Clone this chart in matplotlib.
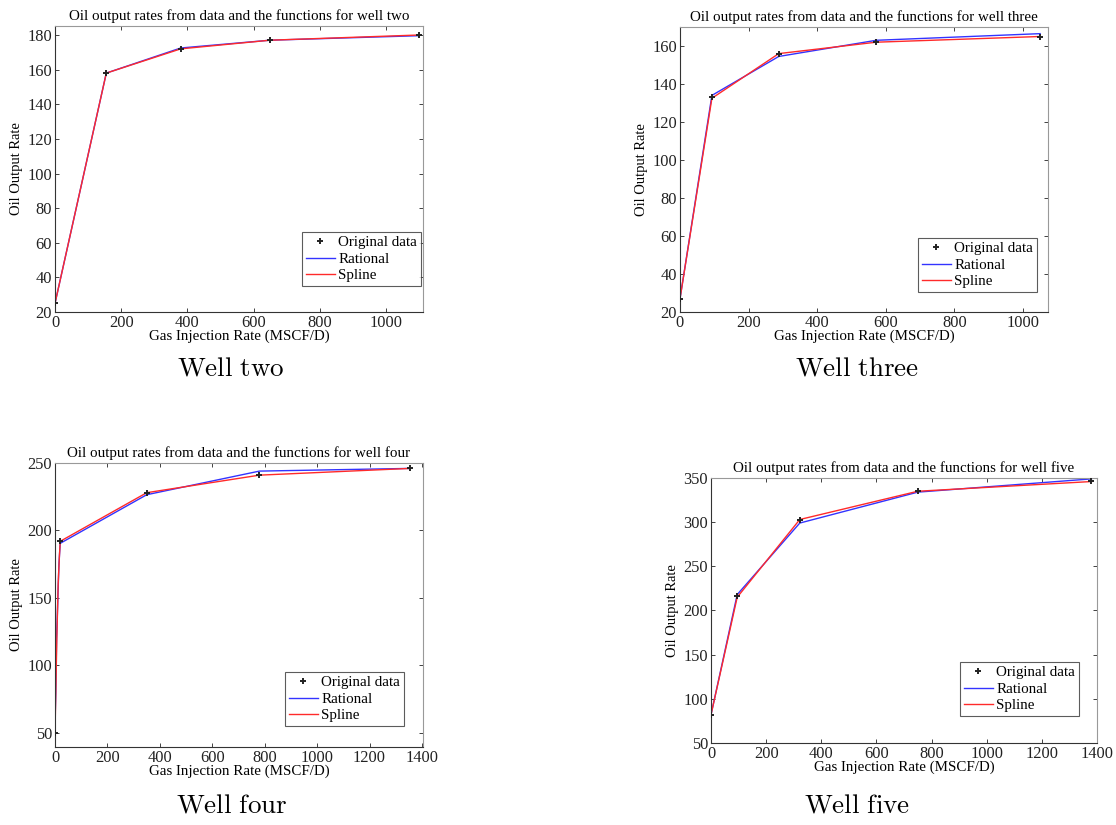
import matplotlib
matplotlib.use("Agg")
import matplotlib.pyplot as plt

plt.rcParams['font.family'] = ['Liberation Serif', 'DejaVu Serif']
plt.rcParams['mathtext.fontset'] = 'cm'

# ---- data ----
# Well two
w2_x = [0, 155, 380, 650, 1100]
w2_data = [25, 158, 172, 177, 180]
w2_rat_x = [0, 155, 380, 650, 1100]
w2_rat = [25, 158, 172.5, 177, 179.6]
w2_spl_x = [0, 155, 380, 650, 1100]
w2_spl = [25, 158, 172, 177, 180]

# Well three
w3_x = [0, 93, 288, 572, 1050]
w3_data = [27, 133, 156, 162, 165]
w3_rat_x = [0, 93, 288, 572, 1050]
w3_rat = [27, 134, 154.5, 163, 166.5]
w3_spl_x = [0, 93, 288, 572, 1050]
w3_spl = [27, 132.5, 156, 162, 165]

# Well four
w4_x = [0, 20, 350, 780, 1355]
w4_data = [50, 192, 228, 241, 246]
w4_rat_x = [0, 3, 6, 11, 15, 20, 350, 780, 1355]
w4_rat = [57, 80, 120, 150, 175, 190.5, 226.5, 244, 246]
w4_spl_x = [0, 3, 7, 12, 17, 20, 350, 780, 1355]
w4_spl = [50, 80, 120, 160, 182, 192, 228, 241, 246]

# Well five
w5_x = [0, 95, 322, 750, 1380]
w5_data = [82, 216, 303, 335, 347]
w5_rat_x = [0, 95, 322, 750, 1380]
w5_rat = [82, 218, 299, 334, 349]
w5_spl_x = [0, 95, 322, 750, 1380]
w5_spl = [82, 215, 303, 335, 346]

titles = ["Oil output rates from data and the functions for well two",
          "Oil output rates from data and the functions for well three",
          "Oil output rates from data and the functions for well four",
          "Oil output rates from data and the functions for well five"]
captions = ["Well two", "Well three", "Well four", "Well five"]
legend_labels = ["Original data", "Rational", "Spline"]
xlabel = "Gas Injection Rate (MSCF/D)"
ylabel = "Oil Output Rate"

W, H = 1116, 825
fig = plt.figure(figsize=(W / 100, H / 100), dpi=100)


def box(l, r, t, b):
    return [l / W, (H - b) / H, (r - l) / W, (b - t) / H]


panels = [
    dict(px=(55, 423, 26, 312), x=w2_x, d=w2_data, rx=w2_rat_x, r=w2_rat, sx=w2_spl_x, s=w2_spl,
         xlim=(0, 1112), ylim=(20, 185.2), xt=range(0, 1001, 200), yt=range(20, 181, 20),
         cap=(231, 369), leg=(421, 286)),
    dict(px=(680, 1048, 27, 312), x=w3_x, d=w3_data, rx=w3_rat_x, r=w3_rat, sx=w3_spl_x, s=w3_spl,
         xlim=(0, 1073), ylim=(20, 170), xt=range(0, 1001, 200), yt=range(20, 161, 20),
         cap=(857, 369), leg=(1037, 292)),
    dict(px=(55, 423, 463, 747), x=w4_x, d=w4_data, rx=w4_rat_x, r=w4_rat, sx=w4_spl_x, s=w4_spl,
         xlim=(0, 1404), ylim=(39.6, 250), xt=range(0, 1401, 200), yt=range(50, 251, 50),
         cap=(232, 806), leg=(404, 726)),
    dict(px=(711, 1097, 478, 743), x=w5_x, d=w5_data, rx=w5_rat_x, r=w5_rat, sx=w5_spl_x, s=w5_spl,
         xlim=(0, 1400), ylim=(50, 350), xt=range(0, 1401, 200), yt=range(50, 351, 50),
         cap=(857, 806), leg=(1079, 716)),
]

for i, p in enumerate(panels):
    l, r, t, b = p['px']
    ax = fig.add_axes(box(l, r, t, b))
    ax.plot(p['x'], p['d'], linestyle='none', marker='+', color='#222222',
            markersize=5, markeredgewidth=1.4, label=legend_labels[0], zorder=3)
    ax.plot(p['rx'], p['r'], color='#3333ff', lw=1.0, label=legend_labels[1])
    ax.plot(p['sx'], p['s'], color='#ff2a2a', lw=1.0, label=legend_labels[2])
    ax.set_xlim(*p['xlim'])
    ax.set_ylim(*p['ylim'])
    ax.set_xticks(list(p['xt']))
    ax.set_yticks(list(p['yt']))
    ax.tick_params(direction='in', top=True, right=True, length=3, width=0.6,
                   labelsize=11.8, pad=2, colors='#222222')
    for side, sp in ax.spines.items():
        sp.set_linewidth(0.8)
        sp.set_color('#333333' if side in ('left', 'bottom') else '#999999')
    ax.set_title(titles[i], fontsize=10.8, pad=4)
    ax.set_xlabel(xlabel, fontsize=10.8, labelpad=-1)
    ax.set_ylabel(ylabel, fontsize=10.5, labelpad=3)
    lx, ly = p['leg']
    leg = ax.legend(loc='lower right', fontsize=10.8, frameon=True, fancybox=False,
                    borderpad=0.25, labelspacing=0.2, handlelength=1.9, handletextpad=0.25,
                    borderaxespad=0.0,
                    bbox_to_anchor=((lx - l) / (r - l), (b - ly) / (b - t)))
    leg.get_frame().set_edgecolor('#333333')
    leg.get_frame().set_linewidth(0.8)
    cx, cy = p['cap']
    fig.text(cx / W, 1 - cy / H, r'$\mathrm{' + captions[i].replace(' ', r'\ ') + '}$',
             ha='center', va='center', fontsize=19.5)

fig.savefig('out.png', dpi=100)
